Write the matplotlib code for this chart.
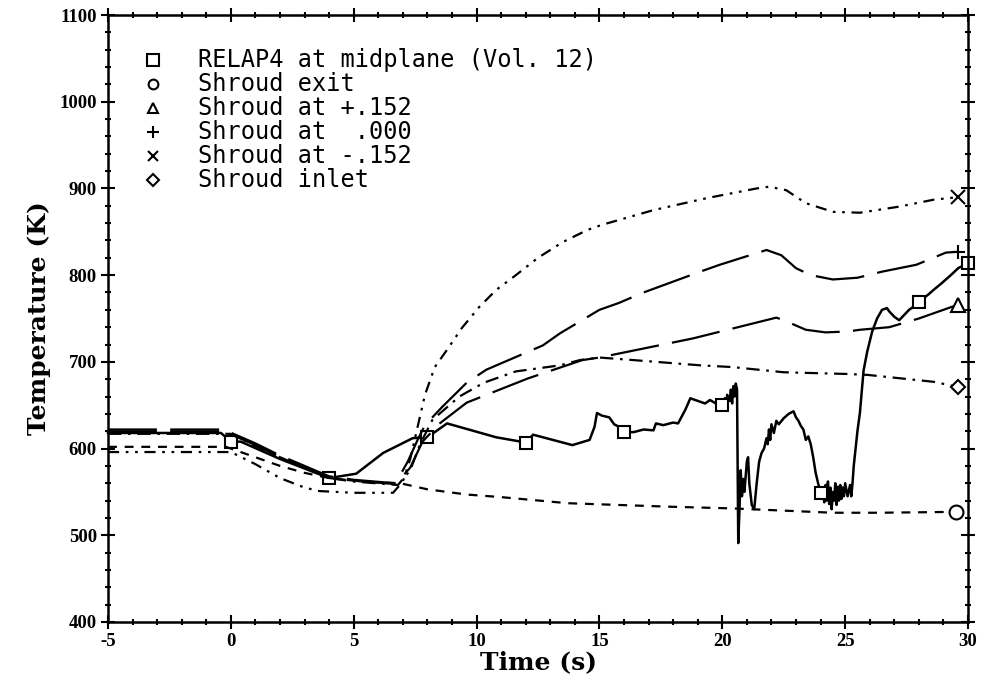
"""Shroud temperatures vs RELAP4 midplane temperature."""

import numpy as np
import matplotlib
matplotlib.use("Agg")
import matplotlib.pyplot as plt
from matplotlib.ticker import MultipleLocator

plt.rcParams["axes.unicode_minus"] = False

# RELAP4 at midplane (Vol. 12)
relap_t = [-5, -0.4, 0, 0.4, 2, 4, 5.1, 6.2, 7.4, 8, 8.8, 10.8, 12, 12.3, 13.9, 14.6, 14.8,
           14.9, 15.1, 15.4, 15.6, 15.8, 16, 16.4, 16.8, 17.2, 17.3, 17.6, 18.0, 18.2, 18.5,
           18.7, 19.0, 19.3, 19.5, 19.8, 20, 20.1, 20.15, 20.2, 20.3, 20.35, 20.4, 20.45,
           20.5, 20.55, 20.6, 20.62, 20.65, 20.7, 20.75, 20.8, 20.85, 20.9, 21.0, 21.05,
           21.1, 21.2, 21.3, 21.4, 21.5, 21.6, 21.7, 21.8, 21.85, 21.9, 21.95, 22.0, 22.1,
           22.2, 22.3, 22.5, 22.7, 22.9, 23.0, 23.1, 23.2, 23.3, 23.4, 23.5, 23.6, 23.7,
           23.8, 23.9, 24, 24.1, 24.15, 24.2, 24.25, 24.3, 24.35, 24.4, 24.45, 24.5, 24.55,
           24.6, 24.65, 24.7, 24.75, 24.8, 24.85, 24.9, 24.95, 25.0, 25.1, 25.2, 25.25,
           25.3, 25.35, 25.5, 25.6, 25.75, 25.9, 26.1, 26.3, 26.5, 26.7, 26.8, 27.0, 27.2,
           27.4, 27.6, 27.8, 28, 28.4, 28.6, 28.9, 29.3, 29.6, 30]
relap_T = [618, 618, 608, 608, 588, 566, 571, 595, 612, 613, 629, 613, 607, 616, 604, 610, 625,
           641, 638, 636, 628, 625, 619, 619, 622, 621, 629, 627, 630, 629, 645,
           658, 655, 652, 656, 651, 650, 658, 648, 662, 655, 668, 652, 672,
           660, 675, 668, 600, 491, 530, 575, 545, 565, 550, 585, 590,
           560, 535, 530, 560, 585, 595, 600, 612, 605, 622, 610, 628, 618,
           632, 628, 635, 640, 643, 636, 632, 626, 622, 610, 614, 605, 590,
           572, 560, 549, 555, 538, 558, 540, 562, 536, 555, 530, 550, 540,
           560, 535, 556, 540, 558, 542, 555, 545, 560, 545, 558, 545,
           560, 580, 620, 641, 690, 712, 735, 750, 760, 762, 758, 752, 748,
           754, 760, 764, 769, 778, 783, 790, 800, 808, 814]
relap_marks = [0, 4, 8, 12, 16, 20, 24, 28, 30]

# Shroud exit
exit_t = [-5, -0.2, 1, 2, 3, 4, 5, 6, 6.9, 8, 9.6, 11, 13.7, 17.8, 20.4, 24.5, 26.4, 29.5]
exit_T = [602, 602, 590, 580, 572, 566, 563, 561, 560, 553, 547, 544, 537, 533, 531, 526, 526, 527]

# Shroud at +.152
p152_t = [-5, -0.3, 1, 2, 4, 5, 6.7, 7.3, 7.8, 8.5, 9.6, 12.1, 14.3, 15.0, 18.8, 22.2, 22.5,
          23.4, 24.2, 25.1, 25.6, 26.8, 28.0, 29.6]
p152_T = [620, 620, 604, 590, 566, 563, 559, 578, 608, 629, 653, 681, 702, 705, 727, 751, 748,
          737, 734, 735, 737, 740, 750, 766]

# Shroud at .000
z000_t = [-5, -0.3, 1, 2, 4, 5, 6.7, 7.2, 7.6, 7.9, 8.6, 9.6, 10.4, 12.7, 13.4, 15.0, 15.8,
          16.7, 19.1, 19.9, 21.8, 22.4, 23.0, 23.6, 24.5, 25.5, 26.5, 27.9, 29.1, 29.6]
z000_T = [622, 622, 606, 592, 568, 564, 560, 585, 610, 627, 648, 676, 691, 719, 733, 760, 768,
          779, 804, 812, 829, 823, 808, 800, 795, 797, 804, 812, 826, 827]

# Shroud at -.152
m152_t = [-5, 0, 1, 2, 3, 3.6, 5, 6.6, 7.0, 7.3, 7.6, 7.9, 8.3, 8.8, 9.4, 10.1, 10.8, 11.6,
          12.5, 13.5, 14.5, 15.1, 17.2, 19.4, 21.4, 21.9, 22.6, 23.4, 24.5, 25.6, 27.2, 28.6, 29.6]
m152_T = [596, 596, 582, 566, 555, 551, 549, 549, 562, 588, 625, 662, 694, 714, 739, 763, 783,
          800, 820, 838, 852, 858, 875, 889, 900, 902, 898, 883, 873, 872, 879, 887, 890]

# Shroud inlet
inlet_t = [-5, 0, 1, 2, 4, 5, 6.8, 7.3, 7.7, 8.2, 9.3, 10.3, 11.6, 13.4, 14.2, 15.0, 16.4,
           19.1, 20.4, 22.5, 25.1, 25.9, 28.6, 29.6]
inlet_T = [617, 617, 603, 590, 566, 562, 558, 575, 605, 633, 660, 676, 689, 696, 702, 705, 702,
           696, 694, 688, 686, 685, 677, 671]

labels = ["RELAP4 at midplane (Vol. 12)", "Shroud exit", "Shroud at +.152",
          "Shroud at  .000", "Shroud at -.152", "Shroud inlet"]


def main():
    fig = plt.figure(figsize=(9.86, 6.88), dpi=100)
    ax = fig.add_axes([108 / 986, 1 - 622 / 688, 860 / 986, 607 / 688])
    lw = 1.6
    mk = dict(mfc="white", mec="black", mew=1.5, clip_on=False)

    # RELAP4 line with squares every 4 s
    idx = [i for i, t in enumerate(relap_t) if t in relap_marks]
    ax.plot(relap_t, relap_T, color="black", lw=1.8, marker="s", ms=9,
            markevery=idx, **mk)

    series = [
        (exit_t, exit_T, "o", (4, 3.5)),
        (p152_t, p152_T, "^", (22, 6)),
        (z000_t, z000_T, "+", (22, 6)),
        (m152_t, m152_T, "x", (5, 3, 1.2, 3, 1.2, 3)),
        (inlet_t, inlet_T, "D", (6, 3, 1.2, 3)),
    ]
    for t, T, m, dash in series:
        ms = 7 if m == "D" else 10
        line, = ax.plot(t, T, color="black", lw=lw, marker=m, ms=ms,
                        markevery=[len(t) - 1], **mk)
        line.set_dashes(dash)

    ax.set_xlim(-5, 30)
    ax.set_ylim(400, 1100)
    ax.xaxis.set_major_locator(MultipleLocator(5))
    ax.xaxis.set_minor_locator(MultipleLocator(1))
    ax.yaxis.set_major_locator(MultipleLocator(100))
    ax.yaxis.set_minor_locator(MultipleLocator(20))
    ax.tick_params(which="both", direction="inout", top=True, right=True, width=1.5)
    ax.tick_params(which="major", length=10, pad=3)
    ax.tick_params(which="minor", length=5)
    for s in ax.spines.values():
        s.set_linewidth(1.8)
    for lab in ax.get_xticklabels() + ax.get_yticklabels():
        lab.set_fontfamily("Liberation Serif")
        lab.set_fontweight("bold")
        lab.set_fontsize(13.5)

    ax.set_xlabel("Time (s)", fontfamily="DejaVu Serif", fontsize=18,
                  fontweight="bold", labelpad=0)
    ax.set_ylabel("Temperature (K)", fontfamily="DejaVu Serif", fontsize=18,
                  fontweight="bold", labelpad=6)

    # Key in the upper left corner
    keys = [("s", 8), ("o", 7), ("^", 7), ("+", 9), ("x", 7), ("D", 6)]
    for i, (label, (m, ms)) in enumerate(zip(labels, keys)):
        y = 0.926 - i * 0.0395
        ax.plot([0.052], [y], marker=m, ms=ms, color="black", transform=ax.transAxes,
                **mk)
        ax.text(0.105, y, label, transform=ax.transAxes, va="center", ha="left",
                fontfamily="DejaVu Sans Mono", fontsize=17)

    fig.savefig("out.png", dpi=100)


if __name__ == "__main__":
    main()
